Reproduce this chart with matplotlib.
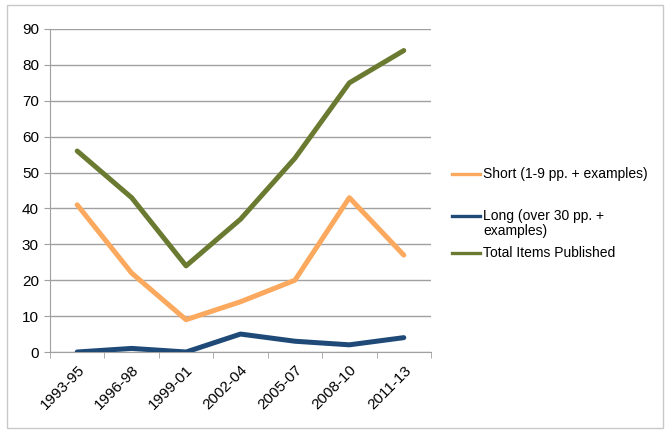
import numpy as np
import matplotlib.pyplot as plt
from matplotlib.patches import Rectangle
from matplotlib.lines import Line2D

periods = ['1993-95', '1996-98', '1999-01', '2002-04', '2005-07', '2008-10', '2011-13']
short_items = [41, 22, 9, 14, 20, 43, 27]
long_items = [0, 1, 0, 5, 3, 2, 4]
total_items = [56, 43, 24, 37, 54, 75, 84]

series_names = [['Short (1-9 pp. + examples)'],
                ['Long (over 30 pp. +', 'examples)'],
                ['Total Items Published']]
colors = ['#fba95e', '#1f4a78', '#6b7a31']

plt.rcParams['font.family'] = ['Liberation Sans', 'DejaVu Sans']
plt.rcParams['font.size'] = 11

W, H = 672, 436
fig = plt.figure(figsize=(W / 100, H / 100), dpi=100)
fig.patches.append(Rectangle((7 / W, 1 - 428 / H), 656 / W, 423 / H,
                             transform=fig.transFigure, fill=False,
                             edgecolor='#c8c8c8', lw=1))
ax = fig.add_axes([50 / W, 1 - 352 / H, 381 / W, 323 / H])

x = np.arange(len(periods))
for vals, c in zip([short_items, long_items, total_items], colors):
    ax.plot(x, vals, color=c, lw=3.6, solid_joinstyle='round',
            solid_capstyle='round', zorder=3)

ax.set_xlim(-0.5, len(periods) - 0.5)
ax.set_ylim(0, 90)
ax.set_yticks(range(0, 91, 10))
ax.yaxis.grid(True, color='#a0a0a0', lw=1)
ax.set_axisbelow(True)

ax.set_xticks(x)
ax.set_xticklabels(periods, rotation=45, ha='right', rotation_mode='anchor')
ax.set_xticks(np.arange(-0.5, len(periods)), minor=True)
ax.tick_params(axis='x', which='major', length=0, pad=8)
ax.tick_params(axis='x', which='minor', length=4, color='#a0a0a0')
ax.tick_params(axis='y', length=4, color='#a0a0a0', pad=4)

for side in ['top', 'right']:
    ax.spines[side].set_visible(False)
ax.spines['left'].set_color('#a0a0a0')
ax.spines['bottom'].set_color('#a0a0a0')

# legend drawn by hand so the handle lines up with the first text line
legend_y = [174, 216, 253]
for names, c, yy in zip(series_names, colors, legend_y):
    fig.lines.append(Line2D([452 / W, 480 / W], [1 - yy / H, 1 - yy / H],
                            transform=fig.transFigure, color=c, lw=2.4))
    for i, name in enumerate(names):
        fig.text(483 / W, 1 - (yy + i * 15) / H, name, va='center', ha='left',
                 fontsize=10)

fig.savefig('out.png', dpi=100)
